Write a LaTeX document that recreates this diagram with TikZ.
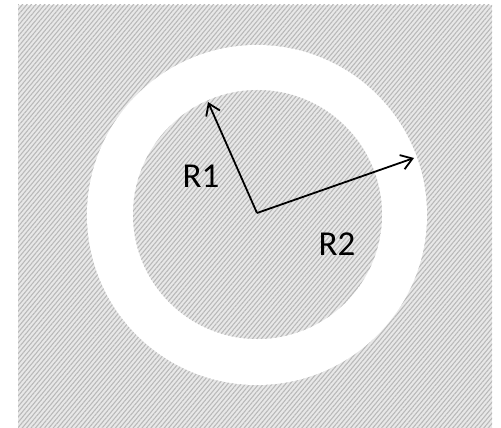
\documentclass[tikz,border=0pt]{standalone}
\usepackage{fontspec}
\setmainfont{Carlito}
\usetikzlibrary{arrows.meta,patterns.meta}
\tikzset{
  hatch/.style={fill=gray!18, postaction={pattern={Lines[angle=50,distance=3.4pt,line width=1.1pt]}, pattern color=gray!55}},
  radius arrow/.style={draw=black, line width=1.8pt, -{Straight Barb[length=11pt,width=15pt,line width=1.8pt]}},
  lab/.style={font=\fontsize{35}{36}\selectfont, inner sep=0pt}
}
\begin{document}
\begin{tikzpicture}[x=1pt,y=-1pt]
\useasboundingbox (0,0) rectangle (501,428);
\fill[white] (0,0) rectangle (501,428);
% outer hatched region
\path[hatch] (18,5) rectangle (492,428);
% white annulus
\fill[white] (257,215) circle[radius=170];
% inner hatched disk
\path[hatch] (257.5,214.5) circle[radius=124.5];
\coordinate (c) at (257,213);
\coordinate (t1) at (208,102);
\coordinate (t2) at (414,158);
\draw[radius arrow] (c) -- (t1);
\draw[radius arrow] (c) -- (t2);
\node[lab] (r1) at (201,176) {R1};
\node[lab] (r2) at (337,244) {R2};
\end{tikzpicture}
\end{document}
